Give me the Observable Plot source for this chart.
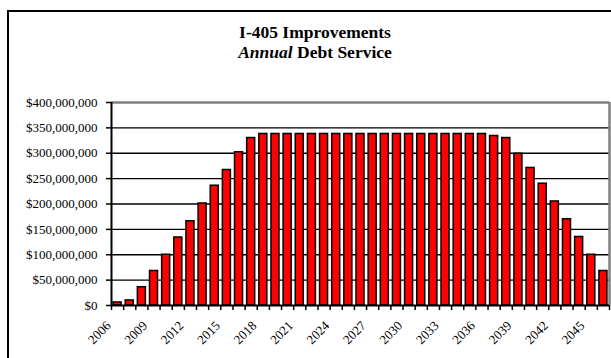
<!DOCTYPE html>
<html><head><meta charset="utf-8">
<script src="https://cdn.jsdelivr.net/npm/d3@7"></script>
<script src="https://cdn.jsdelivr.net/npm/@observablehq/plot@0.6"></script>
<style>
body{margin:0;background:#fff;}
#wrap{position:relative;width:611px;height:358px;overflow:hidden;background:#fff;}
#frame{position:absolute;left:7px;top:10px;width:700px;height:500px;border:2px solid #000;box-sizing:border-box;}
#title{position:absolute;left:0;top:22px;width:630px;text-align:center;font:bold 17.5px/20px "Liberation Serif";color:#000;}
#chart{position:absolute;left:0;top:0;}
</style></head><body>
<div id="wrap"><div id="frame"></div><div id="title">I-405 Improvements<br><i>Annual</i> Debt Service</div><div id="chart"></div></div>
<script>
const years = [2006,2007,2008,2009,2010,2011,2012,2013,2014,2015,2016,2017,2018,2019,2020,2021,2022,2023,2024,2025,2026,2027,2028,2029,2030,2031,2032,2033,2034,2035,2036,2037,2038,2039,2040,2041,2042,2043,2044,2045,2046];
const debtServiceMillions = [6,10,36,68,100,134,166,201,236,267,302,330,338,338,338,338,338,338,338,338,338,338,338,338,338,338,338,338,338,338,338,334,330,299,271,240,205,170,135,100,68];
const yTicks = [0,50e6,100e6,150e6,200e6,250e6,300e6,350e6,400e6];
const labelYears = [2006,2009,2012,2015,2018,2021,2024,2027,2030,2033,2036,2039,2042,2045];

const data = years.map((y,i)=>({year:y, value: debtServiceMillions[i]*1e6}));
const boundaries = [years[0]-0.5, ...years.map(y=>y+0.5)];
const grid = yTicks.filter(t=>t>0 && t<400e6);

const chart = Plot.plot({
  width:611, height:358,
  marginLeft:111, marginRight:2, marginTop:102, marginBottom:53,
  style:{fontFamily:'"Liberation Serif", serif', fontSize:"13px", background:"transparent", overflow:"visible", color:"#000"},
  x:{domain:[years[0]-0.5, years[years.length-1]+0.5]},
  y:{domain:[0,400e6]},
  marks:[
    Plot.ruleY(grid, {stroke:"#000", strokeWidth:1.3}),
    Plot.rectY(data, {x1:d=>d.year-0.33, x2:d=>d.year+0.33, y:"value", fill:"#ff0000", stroke:"#000", strokeWidth:1.5}),
    Plot.ruleY([400e6], {stroke:"#808080", strokeWidth:2.5}),
    Plot.ruleX([years[years.length-1]+0.5], {stroke:"#808080", strokeWidth:2.5}),
    Plot.axisY(yTicks, {tickSize:5, tickPadding:9, tickFormat:d=>"$"+d3.format(",")(d), stroke:"#000", strokeWidth:1.5, fill:"#000", fontSize:13, label:null}),
    Plot.axisX(boundaries, {tickSize:5, tickFormat:()=>"", stroke:"#000", strokeWidth:1.5, label:null}),
    Plot.text(labelYears, {x:d=>d, frameAnchor:"bottom", text:d=>String(d), rotate:-45, textAnchor:"end", dx:-6, dy:21, fill:"#000", fontSize:13}),
    Plot.ruleX([years[0]-0.5], {stroke:"#000", strokeWidth:2}),
    Plot.ruleY([0], {stroke:"#000", strokeWidth:2})
  ]
});
document.getElementById("chart").appendChild(chart);
</script>
</body></html>
